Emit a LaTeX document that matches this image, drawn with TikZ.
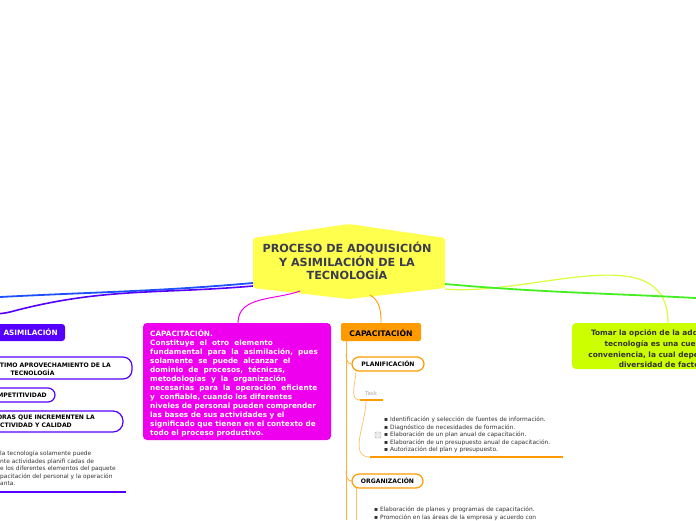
\documentclass[tikz,border=0pt]{standalone}
\usepackage{fontspec}
\setmainfont{DejaVu Sans}
\begin{document}
\begin{tikzpicture}[x=1pt,y=-1pt,
    boxtext/.style={font=\bfseries\fontsize{7.3}{9}\selectfont, inner sep=0pt},
    subtext/.style={font=\bfseries\fontsize{6.1}{8}\selectfont, inner sep=0pt},
    smalltext/.style={font=\fontsize{5.9}{7.5}\selectfont, text=textgray, inner sep=0pt, align=left},
    pill/.style={draw=#1, line width=1.2pt, fill=white, rounded corners=7pt}]
        % Colours of the branches
        \definecolor{titlefill}{RGB}{255, 255, 77}
        \definecolor{titletext}{RGB}{60, 60, 80}
        \definecolor{blueline}{RGB}{30, 80, 255}
        \definecolor{asimil}{RGB}{85, 0, 255}
        \definecolor{capmag}{RGB}{238, 0, 238}
        \definecolor{caporange}{RGB}{255, 155, 0}
        \definecolor{orangethin}{RGB}{255, 190, 100}
        \definecolor{limebox}{RGB}{204, 255, 0}
        \definecolor{limeline}{RGB}{215, 255, 60}
        \definecolor{greenline}{RGB}{68, 238, 34}
        \definecolor{textgray}{RGB}{51, 51, 51}
        
        \useasboundingbox (0,0) rectangle (696,520);
        
        % Central topic
        \fill[titlefill, rounded corners=2pt] (253,238) -- (349,224) -- (445,238) -- (445,288) -- (349,299) -- (253,288) -- cycle;
        \node[font=\bfseries\fontsize{11.2}{13.6}\selectfont, text=titletext, align=center] (title) at (347,261)
            {PROCESO DE ADQUISICIÓN\\Y ASIMILACIÓN DE LA\\TECNOLOGÍA};
        \coordinate (tl1) at (253,283);
        \coordinate (tl2) at (253,286);
        \coordinate (tm) at (300,291);
        \coordinate (to) at (370,295);
        \coordinate (tr1) at (445,289);
        \coordinate (tr2) at (445,284);
        
        % Left: asimilacion
        \fill[asimil, rounded corners=3pt] (-20,324) rectangle (65,341);
        \node[boxtext, text=white, anchor=east] (asim) at (58,332.5) {ASIMILACIÓN};
        \coordinate (asimtop) at (-20,325);
        \coordinate (blueend) at (0,297);
        
        \draw[asimil, line width=1.2pt, rounded corners=9pt, fill=white] (-40,357) rectangle (132,379);
        \node[subtext, anchor=east] (opt1) at (111,364.5) {ÓPTIMO APROVECHAMIENTO DE LA};
        \node[subtext] (opt2) at (32.5,372.5) {TECNOLOGÍA};
        
        \draw[asimil, line width=1.2pt, rounded corners=7pt, fill=white] (-40,388) rectangle (55,402);
        \node[subtext, anchor=east] (comp) at (47,395) {COMPETITIVIDAD};
        
        \draw[asimil, line width=1.2pt, rounded corners=10pt, fill=white] (-40,411) rectangle (123,432);
        \node[subtext, anchor=east] (mej1) at (95,417.5) {MEJORAS QUE INCREMENTEN LA};
        \node[subtext, anchor=east] (mej2) at (72,425.5) {PRODUCTIVIDAD Y CALIDAD};
        
        \node[smalltext, anchor=north west] (asimnote) at (0,451) {la tecnología solamente puede\\nte actividades planifi cadas de\\e los diferentes elementos del paquete\\pacitación del personal y la operación\\anta.};
        \draw[asimil, line width=2.6pt] (-5,492) -- (126,492);
        
        % Middle: capacitacion text
        \fill[capmag, rounded corners=4pt] (143,323) rectangle (331,440);
        \node[boxtext, text=white, align=left, anchor=north west] (captext) at (150,329.5)
            {CAPACITACIÓN.\\
             Constituye\ \ el\ \ otro\ \ elemento\\
             fundamental\ \ para\ \ la\ \ asimilación,\ \ pues\\
             solamente\ \ se\ \ puede\ \ alcanzar\ \ el\\
             dominio\ \ de\ \ procesos,\ \ técnicas,\\
             metodologías\ \ y\ \ la\ \ organización\\
             necesarias\ \ para\ \ la\ \ operación\ \ eficiente\\
             y\ \ confiable, cuando los diferentes\\
             niveles de personal pueden comprender\\
             las bases de sus actividades y el\\
             significado que tienen en el contexto de\\
             todo el proceso productivo.};
        \coordinate (captop) at (238,323);
        
        % Orange branch
        \fill[caporange, rounded corners=2pt] (341,323) rectangle (421,341);
        \node[boxtext, font=\bfseries\fontsize{7.7}{9}\selectfont, text=black] (cap) at (381,332.5) {CAPACITACIÓN};
        \draw[caporange!80, line width=0.8pt] (346,341) -- (346,520);
        
        \node[pill=caporange, subtext, minimum width=72pt, minimum height=14pt, inner sep=0pt] (plan) at (388,364) {PLANIFICACIÓN};
        \node[pill=caporange, subtext, minimum width=71pt, minimum height=14pt, inner sep=0pt] (org) at (387.5,481) {ORGANIZACIÓN};
        \draw[caporange!80, line width=0.8pt] (346,354) to[out=-90, in=180] (plan.west);
        \draw[caporange!80, line width=0.8pt] (346,471) to[out=-90, in=180] (org.west);
        
        % Task
        \node[font=\fontsize{5.5}{6}\selectfont, text=black!35] (task) at (371,393) {Task};
        \coordinate (taskl) at (360,400);
        \coordinate (taskr) at (383,400);
        \draw[orangethin, line width=0.7pt] (356,371) to[out=-90, in=180] (taskl);
        \draw[caporange, line width=2pt] (taskl) -- (taskr);
        
        \node[smalltext, anchor=north west] (planlist) at (384,417)
            {▪ Identificación y selección de fuentes de información.\\
             ▪ Diagnóstico de necesidades de formación.\\
             ▪ Elaboración de un plan anual de capacitación.\\
             ▪ Elaboración de un presupuesto anual de capacitación.\\
             ▪ Autorización del plan y presupuesto.};
        \draw[black!30, fill=black!8, rounded corners=1pt] (375,432) rectangle (381,438);
        \coordinate (listl) at (370,457);
        \coordinate (listr) at (563,457);
        \draw[orangethin, line width=0.7pt] (366,401) to[out=-90, in=180] (listl);
        \draw[caporange, line width=2pt] (listl) -- (listr);
        
        \draw[orangethin, line width=0.7pt] (356,488) -- (356,520);
        \node[smalltext, anchor=north west] (orglist) at (374,507)
            {▪ Elaboración de planes y programas de capacitación.\\
             ▪ Promoción en las áreas de la empresa y acuerdo con};
        
        % Right: lime box
        \fill[limebox, rounded corners=4pt] (572,323) rectangle (760,369);
        \node[font=\bfseries\fontsize{7.4}{10.7}\selectfont, text=textgray, align=center] (option) at (667,349)
            {Tomar la opción de la adquisición de\\tecnología es una cuestión de\\conveniencia, la cual depende de una\\diversidad de factores.};
        \coordinate (limetop) at (668,323);
        \coordinate (greenend) at (696,298);
        
        % Connectors from the central topic
        \draw[blueline, line width=1.8pt] (tl1) to[out=185, in=3] (blueend);
        \draw[asimil, line width=1.6pt] (tl2) to[out=185, in=15] (10,312) to[out=195, in=90] (asimtop);
        \draw[capmag, line width=1pt] (tm) to[out=200, in=90] (captop);
        \draw[caporange, line width=0.9pt] (to) to[out=-30, in=90] (381,323);
        \draw[limeline, line width=1.2pt] (tr1) to[out=-5, in=90] (limetop);
        \draw[greenline, line width=1.8pt] (tr2) to[out=-5, in=177] (greenend);
    \end{tikzpicture}
\end{document}
